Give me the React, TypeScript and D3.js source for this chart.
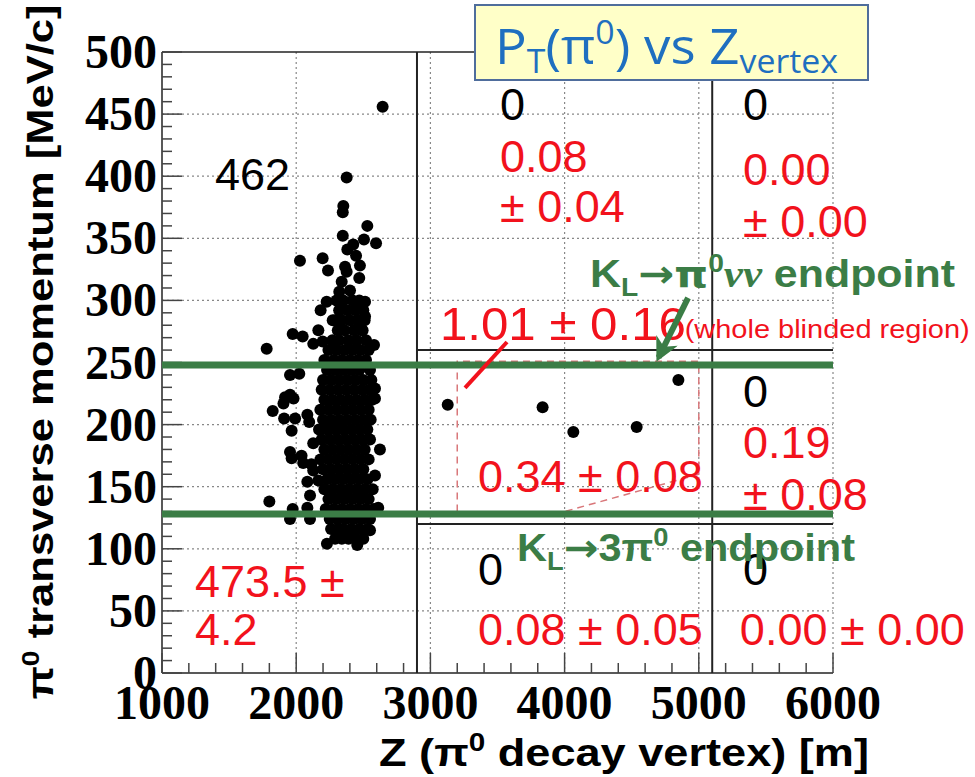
import React from "react";
import * as d3 from "d3";

const width = 975;
const height = 777;
const plot = { left: 162, right: 833, top: 52, bottom: 673 };

// scattered events: [Z vertex, Pt]
const outliers: [number, number][] = [
  [2644, 456], [2376, 399], [2351, 376], [2347, 371], [2530, 360], [2347, 352],
  [2505, 349], [2595, 346], [2425, 345], [2381, 341], [2028, 332], [2197, 334],
  [2446, 336], [2237, 324], [2364, 327], [2475, 328], [2376, 323], [2470, 318],
  [2339, 315], [2401, 308], [2321, 307], [2227, 299], [2182, 292], [2513, 299],
  [2451, 296], [2272, 284], [2513, 287], [2165, 276], [1974, 273], [2048, 271],
  [1780, 261], [2127, 265], [2197, 267], [2580, 264], [2495, 276],
  [1954, 240], [2023, 241], [1954, 224], [1980, 221], [1905, 217], [1917, 222],
  [1825, 211], [1910, 205], [1992, 205], [2083, 208], [2097, 202], [1966, 195],
  [2127, 185], [1954, 178], [1966, 173], [2040, 175], [2052, 169], [2113, 168],
  [2127, 163], [2083, 154], [2165, 155], [2103, 143], [1800, 138], [1974, 132],
  [1954, 124], [2083, 133], [2103, 124], [2624, 180], [2587, 159], [2611, 133],
  [2587, 229], [2587, 221], [2229, 104], [2455, 103], [2550, 115],
];

const core: [number, number][] = [
  [2300, 300], [2350, 300], [2420, 300], [2470, 300],
  [2320, 292], [2380, 292], [2440, 292], [2500, 292],
  [2290, 284], [2340, 284], [2400, 284], [2460, 284], [2510, 284],
  [2310, 276], [2360, 276], [2430, 276], [2490, 276],
  [2270, 268], [2320, 268], [2390, 268], [2450, 268], [2520, 268],
  [2240, 260], [2300, 260], [2360, 260], [2420, 260], [2480, 260], [2540, 260],
  [2210, 252], [2280, 252], [2340, 252], [2400, 252], [2460, 252], [2520, 252],
  [2230, 244], [2290, 244], [2350, 244], [2410, 244], [2470, 244], [2550, 244],
  [2200, 236], [2260, 236], [2320, 236], [2380, 236], [2440, 236], [2500, 236], [2560, 236],
  [2190, 228], [2250, 228], [2310, 228], [2370, 228], [2430, 228], [2490, 228], [2545, 228],
  [2210, 220], [2270, 220], [2330, 220], [2390, 220], [2450, 220], [2510, 220], [2565, 220],
  [2180, 212], [2240, 212], [2300, 212], [2360, 212], [2420, 212], [2480, 212], [2540, 212],
  [2200, 204], [2260, 204], [2320, 204], [2380, 204], [2440, 204], [2500, 204], [2555, 204],
  [2170, 196], [2230, 196], [2290, 196], [2350, 196], [2410, 196], [2470, 196], [2530, 196],
  [2190, 188], [2250, 188], [2310, 188], [2370, 188], [2430, 188], [2490, 188], [2550, 188],
  [2210, 180], [2270, 180], [2330, 180], [2390, 180], [2450, 180], [2510, 180],
  [2180, 172], [2240, 172], [2300, 172], [2360, 172], [2420, 172], [2480, 172], [2540, 172],
  [2200, 164], [2260, 164], [2320, 164], [2380, 164], [2440, 164], [2500, 164],
  [2230, 156], [2290, 156], [2350, 156], [2410, 156], [2470, 156], [2530, 156],
  [2210, 148], [2270, 148], [2330, 148], [2390, 148], [2450, 148], [2510, 148], [2570, 148],
  [2240, 140], [2300, 140], [2360, 140], [2420, 140], [2480, 140], [2540, 140],
  [2220, 132], [2280, 132], [2340, 132], [2400, 132], [2460, 132], [2520, 132], [2580, 132],
  [2250, 124], [2310, 124], [2370, 124], [2430, 124], [2490, 124], [2550, 124],
  [2260, 116], [2310, 116], [2350, 116], [2410, 116], [2470, 116], [2530, 116],
  [2290, 108], [2340, 108], [2390, 108], [2440, 108], [2500, 108],
];

const signalBoxEvents: [number, number][] = [
  [3129, 216], [3836, 214], [4065, 194], [4537, 198], [4848, 236],
];

const xTicks = [1000, 2000, 3000, 4000, 5000, 6000];
const yTicks = [0, 50, 100, 150, 200, 250, 300, 350, 400, 450, 500];
const zCuts = [2900, 5100]; // blind region edges in Z
const ptCuts = [120, 260]; // blind region edges in Pt
const endpoints = [248, 128]; // KL->pi0nunu, KL->3pi0
// signal region outline (dashed)
const signalRegion: [number, number][] = [
  [3200, 130], [3200, 251], [5000, 251], [5000, 160], [4000, 130],
];

const red = "#f2121c";
const green = "#3b7d46";

const x = d3.scaleLinear().domain([1000, 6000]).range([plot.left, plot.right]);
const y = d3.scaleLinear().domain([0, 500]).range([plot.bottom, plot.top]);

const Label = ({ z, pt, text, size = 45, fill = red, len }: { z: number; pt: number; text: string; size?: number; fill?: string; len?: number }) => (
  <text
    x={x(z)}
    y={y(pt)}
    fill={fill}
    fontSize={size}
    fontFamily="Liberation Sans, Arial, sans-serif"
    textLength={len}
    lengthAdjust={len ? "spacingAndGlyphs" : undefined}
  >
    {text}
  </text>
);

export default function App() {
  const yMinor = d3.range(0, 501, 10);
  const xMinor = d3.range(1000, 6001, 200);
  const line = d3.line<[number, number]>().x((d) => x(d[0])).y((d) => y(d[1]));
  const serif = "Liberation Serif, Times New Roman, serif";
  const sans = "Liberation Sans, Arial, sans-serif";

  return (
    <div style={{ position: "absolute", left: 0, top: 0 }}>
      <svg width={width} height={height} style={{ display: "block", background: "#fff" }}>
        <defs>
          <marker id="gArrow" viewBox="0 0 10 10" refX="8" refY="5" markerWidth="4" markerHeight="4" orient="auto">
            <path d="M0,0 L10,5 L0,10 L3,5 Z" fill={green} />
          </marker>
        </defs>

        {/* dotted grid */}
        <g stroke="#888" strokeWidth={1.2} strokeDasharray="2,3">
          {yTicks.slice(1, -1).map((t) => (
            <line key={"gy" + t} x1={plot.left} x2={plot.right} y1={y(t)} y2={y(t)} />
          ))}
          {xTicks.slice(1).map((t) => (
            <line key={"gx" + t} x1={x(t)} x2={x(t)} y1={plot.top} y2={plot.bottom} />
          ))}
        </g>

        {/* frame */}
        <g stroke="#222" strokeWidth={1.5} fill="none">
          <line x1={plot.left} x2={plot.right} y1={plot.top} y2={plot.top} />
          <line x1={plot.left} x2={plot.left} y1={plot.top} y2={plot.bottom} />
          <line x1={plot.left} x2={plot.right} y1={plot.bottom} y2={plot.bottom} />
        </g>

        {/* ticks */}
        <g stroke="#444" strokeWidth={1.5}>
          {yMinor.map((t) => (
            <line key={"ty" + t} x1={plot.left} x2={plot.left + (t % 50 === 0 ? 20 : 10)} y1={y(t)} y2={y(t)} />
          ))}
          {xMinor.map((t) => (
            <line key={"tx" + t} x1={x(t)} x2={x(t)} y1={plot.bottom} y2={plot.bottom - (t % 1000 === 0 ? 20 : 10)} />
          ))}
        </g>

        {/* blind region boxes */}
        <g stroke="#222" strokeWidth={2}>
          {zCuts.map((z) => (
            <line key={"zc" + z} x1={x(z)} x2={x(z)} y1={plot.top} y2={plot.bottom} />
          ))}
          {ptCuts.map((p) => (
            <line key={"pc" + p} x1={x(zCuts[0])} x2={plot.right} y1={y(p)} y2={y(p)} />
          ))}
        </g>

        {/* signal region */}
        <path d={line(signalRegion) || ""} fill="none" stroke="#d9777a" strokeWidth={1.5} strokeDasharray="7,5" />

        {/* events */}
        <g fill="#000">
          {[...core, ...outliers, ...signalBoxEvents].map((d, i) => (
            <circle key={i} cx={x(d[0])} cy={y(d[1])} r={6} />
          ))}
        </g>

        {/* endpoint lines */}
        <g stroke={green} strokeWidth={7}>
          {endpoints.map((p) => (
            <line key={"ep" + p} x1={plot.left} x2={plot.right} y1={y(p)} y2={y(p)} />
          ))}
        </g>

        {/* tick labels */}
        <g fontFamily={serif} fontWeight="bold" fontSize={48} fill="#000">
          {yTicks.map((t) => (
            <text key={"ly" + t} x={157} y={y(t) + 16} textAnchor="end">
              {t}
            </text>
          ))}
          {xTicks.map((t) => (
            <text key={"lx" + t} x={x(t)} y={719} textAnchor="middle">
              {t}
            </text>
          ))}
        </g>

        {/* axis titles */}
        <text
          transform={`translate(53, 352) rotate(-90)`}
          textAnchor="middle"
          fontFamily={sans}
          fontWeight="bold"
          fontSize={37}
          textLength={695}
          lengthAdjust="spacingAndGlyphs"
        >
          π<tspan dy={-14} fontSize={24}>0</tspan>
          <tspan dy={14}> transverse momentum [MeV/c]</tspan>
        </text>
        <text
          x={624}
          y={766}
          textAnchor="middle"
          fontFamily={sans}
          fontWeight="bold"
          fontSize={38}
          textLength={490}
          lengthAdjust="spacingAndGlyphs"
        >
          Z (π<tspan dy={-15} fontSize={25}>0</tspan>
          <tspan dy={15}> decay vertex) [m]</tspan>
        </text>

        {/* counts and predictions */}
        <Label z={1395} pt={389} text="462" fill="#000" />
        <Label z={3519} pt={445} text="0" fill="#000" />
        <Label z={3519} pt={403} text="0.08" />
        <Label z={3519} pt={363} text="± 0.04" />
        <Label z={5329} pt={445} text="0" fill="#000" />
        <Label z={5329} pt={393} text="0.00" />
        <Label z={5329} pt={351} text="± 0.00" />
        <Label z={3071} pt={268} text="1.01 ± 0.16" size={47} len={246} />
        <Label z={4895} pt={270} text="(whole blinded region)" size={26} len={285} />
        <Label z={3355} pt={146} text="0.34 ± 0.08" />
        <Label z={5329} pt={214} text="0" fill="#000" />
        <Label z={5329} pt={173} text="0.19" />
        <Label z={5329} pt={131} text="± 0.08" />
        <Label z={3355} pt={71} text="0" fill="#000" />
        <Label z={5329} pt={71} text="0" fill="#000" />
        <Label z={1246} pt={61} text="473.5 ±" />
        <Label z={1246} pt={22.5} text="4.2" />
        <Label z={3355} pt={22.5} text="0.08 ± 0.05" />
        <Label z={5306} pt={22.5} text="0.00 ± 0.00" />

        <line x1={x(3571)} y1={y(266.5)} x2={x(3258)} y2={y(229.5)} stroke={red} strokeWidth={4} />

        {/* endpoint labels */}
        <g fontFamily={sans} fontWeight="bold" fill={green} fontSize={38}>
          <text x={590} y={287} textLength={365} lengthAdjust="spacingAndGlyphs">
            K<tspan fontSize={25} dy={9}>L</tspan>
            <tspan dy={-9} fontFamily="DejaVu Sans, sans-serif">→π</tspan>
            <tspan fontSize={25} dy={-15}>0</tspan>
            <tspan dy={15} fontFamily={serif} fontStyle="italic">νν</tspan>
            <tspan> endpoint</tspan>
          </text>
          <text x={517} y={561} textLength={338} lengthAdjust="spacingAndGlyphs">
            K<tspan fontSize={25} dy={9}>L</tspan>
            <tspan dy={-9} fontFamily="DejaVu Sans, sans-serif">→</tspan>
            <tspan>3π</tspan>
            <tspan fontSize={25} dy={-15}>0</tspan>
            <tspan dy={15}> endpoint</tspan>
          </text>
        </g>
        <line x1={x(4920)} y1={y(302)} x2={x(4700)} y2={y(254)} stroke={green} strokeWidth={6} markerEnd="url(#gArrow)" />

        {/* title box */}
        <rect x={475} y={5} width={393} height={75} fill="#ffffc8" stroke="#4f6d9c" strokeWidth={2} />
        <text
          x={495}
          y={64}
          fill="#1f6fc0"
          fontFamily="Open Sans, sans-serif"
          fontSize={50}
          textLength={343}
          lengthAdjust="spacingAndGlyphs"
        >
          P<tspan fontSize={32} dy={9}>T</tspan>
          <tspan dy={-9}>(π</tspan>
          <tspan fontSize={32} dy={-20}>0</tspan>
          <tspan dy={20}>) vs Z</tspan>
          <tspan fontSize={32} dy={9}>vertex</tspan>
        </text>
      </svg>
    </div>
  );
}
